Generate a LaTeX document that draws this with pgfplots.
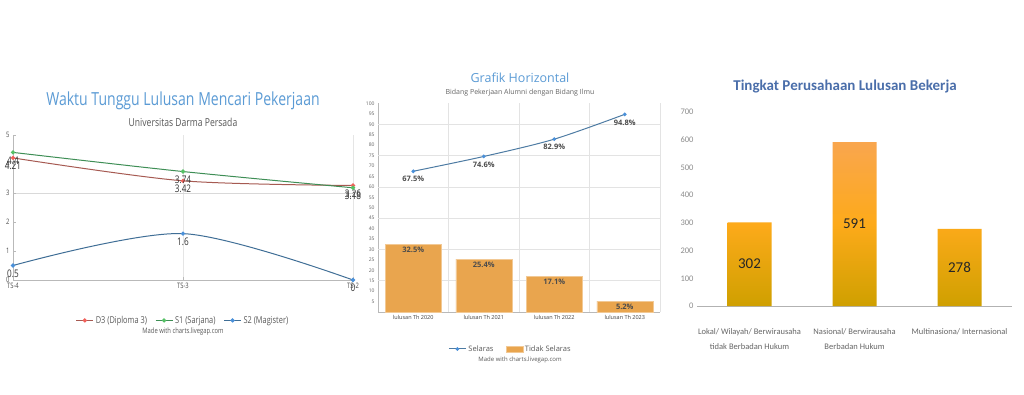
\documentclass[border=0pt]{standalone}
\usepackage{fontspec}
\setmainfont{Open Sans}
\newfontfamily\narrow[FakeStretch=0.78]{Open Sans}
\newfontfamily\carlito{Carlito}
\usepackage{pgfplots}
\pgfplotsset{compat=1.18}
\definecolor{ttlblue}{HTML}{5B9BD5}
\definecolor{dthree}{HTML}{A65A52}
\definecolor{dthreemk}{HTML}{F0605A}
\definecolor{sone}{HTML}{3E8E55}
\definecolor{sonemk}{HTML}{55C065}
\definecolor{stwo}{HTML}{3F6E96}
\definecolor{stwomk}{HTML}{4A90D9}
\definecolor{barorange}{HTML}{E9A54E}
\definecolor{selaras}{HTML}{4D7BA3}
\definecolor{ttlthree}{HTML}{4A6EAA}
\definecolor{bartop}{HTML}{F9A64E}
\definecolor{barmid}{HTML}{FDAA1A}
\definecolor{barbot}{HTML}{CFA000}
\newcommand{\fs}[1]{\fontsize{#1bp}{#1bp}\selectfont}
\begin{document}
\begin{tikzpicture}[x=1bp,y=1bp]
\useasboundingbox[fill=white] (0,0) rectangle (1024,394);
% ---------------- chart 1
\node[font=\narrow\fs{18}, text=ttlblue] at (183,293) {Waktu Tunggu Lulusan Mencari Pekerjaan};
\node[font=\narrow\fs{11}, text=black!65] at (183,272) {Universitas Darma Persada};
\begin{axis}[at={(13bp,114bp)}, anchor=south west, scale only axis, width=340bp, height=145bp,
  xmin=0, xmax=2, ymin=0, ymax=5, clip=false,
  axis lines*=left, axis line style={draw=gray!55, line width=0.8pt},
  xtick={0,1,2}, xticklabels={TS-4,TS-3,TS-2},
  ytick={0,1,2,3,4,5},
  tick style={draw=gray!55, line width=0.5pt}, major tick length=3bp,
  xmajorgrids, grid style={gray!20, line width=0.6pt},
  extra y ticks={3}, extra y tick labels={}, extra y tick style={ymajorgrids=true, grid style={gray!30, line width=1pt}},
  ticklabel style={font=\narrow\fs{7.5}, text=black!70},
  /pgf/number format/assume math mode=true,
  legend style={at={(0.5,-0.22)}, anchor=north, draw=none, fill=none, legend columns=3,
    font=\narrow\fs{9.5}, text=black!65, /tikz/every even column/.append style={column sep=6bp}},
]
\addplot[smooth, color=dthree, line width=1pt, mark=*, mark size=1.6bp, mark options={fill=dthreemk, draw=dthreemk},
  nodes near coords, every node near coord/.append style={anchor=center, yshift=-8bp, font=\narrow\fs{10.5}, text=black!80, inner sep=0pt}]
  coordinates {(0,4.21) (1,3.42) (2,3.26)};
\addlegendentry{D3 (Diploma 3)}
\addplot[smooth, color=sone, line width=1pt, mark=*, mark size=1.6bp, mark options={fill=sonemk, draw=sonemk},
  nodes near coords, every node near coord/.append style={anchor=center, yshift=-8bp, font=\narrow\fs{10.5}, text=black!80, inner sep=0pt}]
  coordinates {(0,4.4) (1,3.74) (2,3.18)};
\addlegendentry{S1 (Sarjana)}
\addplot[smooth, color=stwo, line width=1pt, mark=*, mark size=1.6bp, mark options={fill=stwomk, draw=stwomk},
  nodes near coords, every node near coord/.append style={anchor=center, yshift=-8bp, font=\narrow\fs{10.5}, text=black!80, inner sep=0pt}]
  coordinates {(0,0.5) (1,1.6) (2,0)};
\addlegendentry{S2 (Magister)}
\end{axis}
\node[font=\narrow\fs{7.5}, text=black!65] at (183,62) {Made with charts.livegap.com};
% ---------------- chart 2
\node[font=\fs{12.5}, text=ttlblue] at (520,316) {Grafik Horizontal};
\node[font=\fs{7}, text=black!60] at (520,301) {Bidang Pekerjaan Alumni dengan Bidang Ilmu};
\begin{axis}[at={(378bp,82bp)}, anchor=south west, scale only axis, width=282bp, height=208.5bp,
  xmin=-0.5, xmax=3.5, ymin=0, ymax=100, clip=false,
  axis lines*=left, axis line style={draw=gray!55, line width=0.8pt},
  xtick={0,1,2,3}, xticklabels={lulusan Th 2020,lulusan Th 2021,lulusan Th 2022,lulusan Th 2023},
  ytick={5,10,...,100}, major tick length=0pt,
  extra x ticks={0.5,1.5,2.5,3.5}, extra x tick labels={}, extra x tick style={xmajorgrids=true},
  extra y ticks={15,30,...,90}, extra y tick labels={}, extra y tick style={ymajorgrids=true},
  grid style={gray!22, line width=0.7pt},
  xticklabel style={font=\fs{5.5}, text=black!75},
  yticklabel style={font=\fs{5}, text=black!60},
  /pgf/number format/assume math mode=true,
  legend style={at={(0.47,-0.14)}, anchor=north, draw=none, fill=none, legend columns=2,
    font=\fs{7.5}, text=black!65, /tikz/every even column/.append style={column sep=10bp}},
]
\addplot[smooth, color=selaras, line width=1pt, mark=*, mark size=1.3bp, mark options={fill=stwomk, draw=stwomk},
  nodes near coords={\pgfmathprintnumber[fixed,precision=1,fixed zerofill]{\pgfplotspointmeta}\%},
  every node near coord/.append style={anchor=center, yshift=-8bp, font=\bfseries\fs{7.5}, text=black!70, inner sep=0pt}]
  coordinates {(0,67.5) (1,74.6) (2,82.9) (3,94.8)};
\addlegendentry{Selaras}
\addplot[ybar, bar width=56bp, fill=barorange, draw=barorange!60!white, area legend,
  nodes near coords={\pgfmathprintnumber[fixed,precision=1,fixed zerofill]{\pgfplotspointmeta}\%},
  every node near coord/.append style={anchor=north, yshift=-3bp, font=\bfseries\fs{7.5}, text=black!70, inner sep=0pt}]
  coordinates {(0,32.5) (1,25.4) (2,17.1) (3,5.2)};
\addlegendentry{Tidak Selaras}
\end{axis}
\node[font=\fs{6}, text=black!65] at (520,34) {Made with charts.livegap.com};
% ---------------- chart 3
\node[font=\carlito\bfseries\fs{15}, text=ttlthree] at (845,307) {Tingkat Perusahaan Lulusan Bekerja};
\begin{axis}[at={(697bp,88bp)}, anchor=south west, scale only axis, width=315bp, height=194bp,
  xmin=-0.5, xmax=2.5, ymin=0, ymax=700, clip=false,
  axis lines*=left, x axis line style={draw=gray!60, line width=0.8pt}, y axis line style={draw=none},
  xtick={0,1,2}, major tick length=0pt,
  ytick={0,100,...,700},
  yticklabel style={font=\carlito\fs{8.5}, text=black!45},
  xticklabel style={font=\carlito\fontsize{8.5bp}{15bp}\selectfont, text=black!60, align=center, yshift=-19bp},
  xticklabels={{Lokal/ Wilayah/ Berwirausaha\\tidak Berbadan Hukum},{Nasional/ Berwirausaha\\Berbadan Hukum},{Multinasiona/ Internasional}},
  /pgf/number format/assume math mode=true,
]
\addplot[ybar, bar width=44bp, draw=none, top color=bartop, bottom color=barbot, middle color=barmid,
  nodes near coords, visualization depends on={y \as \rawy},
  every node near coord/.append style={anchor=center, yshift={-0.1386*\rawy}, font=\carlito\fs{15}, text=black!85}]
  coordinates {(0,302) (1,591) (2,278)};
\end{axis}
\end{tikzpicture}
\end{document}
